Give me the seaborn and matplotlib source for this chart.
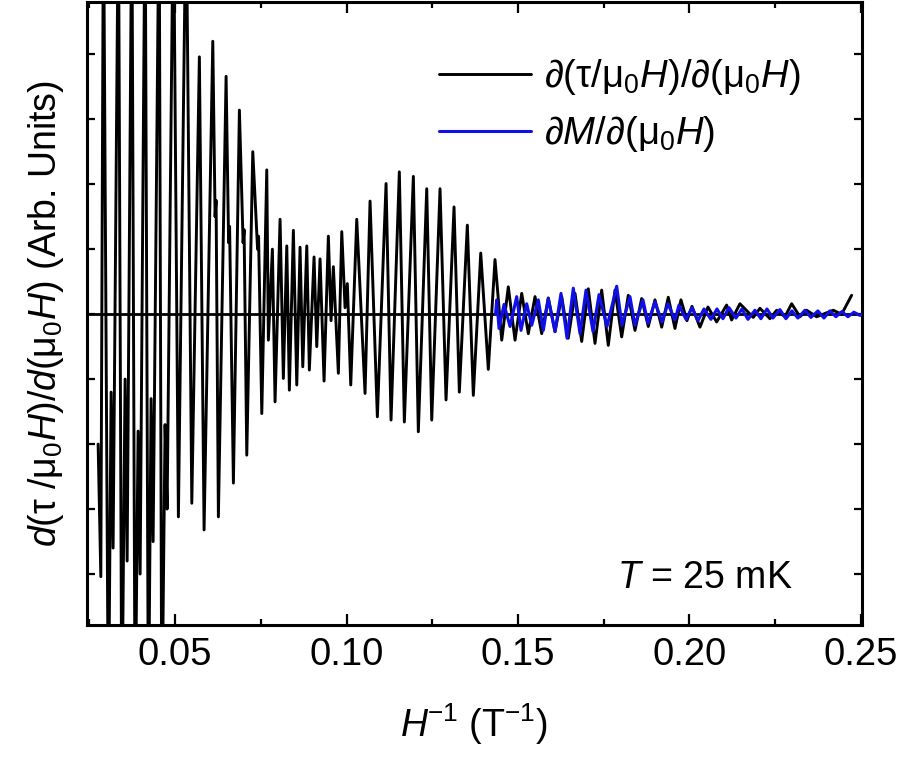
import matplotlib
matplotlib.use("Agg")
import matplotlib.pyplot as plt
import seaborn as sns
import pandas as pd
from matplotlib.ticker import MultipleLocator, NullFormatter

# Torque derivative d(tau/mu0H)/d(mu0H) versus inverse field (extrema of the trace)
black_x = [
    0.02755, 0.02834, 0.02910, 0.03055, 0.03134, 0.03192, 0.03347, 0.03446,
    0.03542, 0.03601, 0.03738, 0.03834, 0.03921, 0.03980, 0.04125, 0.04222,
    0.04300, 0.04359, 0.04534, 0.04612, 0.04708, 0.04767, 0.04950, 0.05096,
    0.05321, 0.05487, 0.05708, 0.05845, 0.06099, 0.06166, 0.06195, 0.06262,
    0.06487, 0.06560, 0.06589, 0.06700, 0.06875, 0.06983, 0.07012, 0.07090,
    0.07265, 0.07405, 0.07434, 0.07528, 0.07673, 0.07720, 0.07837, 0.07915,
    0.08061, 0.08157, 0.08257, 0.08332, 0.08449, 0.08548, 0.08644, 0.08723,
    0.08840, 0.08915, 0.09052, 0.09131, 0.09227, 0.09344, 0.09469, 0.09548,
    0.09615, 0.09761, 0.09860, 0.09956, 0.10023, 0.10122, 0.10297, 0.10539,
    0.10685, 0.10898, 0.11152, 0.11297, 0.11539, 0.11685, 0.11948, 0.12093,
    0.12338, 0.12484, 0.12726, 0.12901, 0.13134, 0.13289, 0.13522, 0.13697,
    0.13913, 0.14134, 0.14329, 0.14525, 0.14717, 0.14913, 0.15108, 0.15300,
    0.15496, 0.15691, 0.15883, 0.16079, 0.16274, 0.16466, 0.16662, 0.16857,
    0.17050, 0.17245, 0.17440, 0.17633, 0.17828, 0.18023, 0.18216, 0.18411,
    0.18606, 0.18799, 0.18994, 0.19190, 0.19382, 0.19577, 0.19752, 0.19927,
    0.20073, 0.20306, 0.20539, 0.20793, 0.21084, 0.21230, 0.21472, 0.21860,
    0.22055, 0.22347, 0.22542, 0.22784, 0.22980, 0.23222, 0.23417, 0.23708,
    0.24192, 0.24437, 0.24729,
]
black_y = [
    -2.00, -4.04, 6.50, -6.50, -1.20, -3.60, 6.50, -6.50,
    -1.00, -3.80, 6.50, -6.50, -1.80, -4.00, 6.50, -6.50,
    -1.30, -3.50, 6.50, -6.50, -1.70, -3.00, 6.50, -3.12,
    6.50, -2.91, 3.96, -3.32, 4.20, 1.50, 1.75, -3.12,
    3.66, 1.10, 1.35, -2.60, 3.14, 1.10, 1.30, -2.17,
    2.50, 1.00, 1.20, -1.53, 2.22, -0.40, 1.00, -1.35,
    1.46, -0.99, 1.05, -1.17, 1.29, -1.09, 1.03, -0.81,
    1.05, -0.86, 0.88, -0.50, 0.85, -1.03, 1.20, -0.10,
    0.73, -0.91, 1.27, 0.10, 0.47, -1.09, 1.46, -1.22,
    1.74, -1.58, 2.01, -1.63, 2.19, -1.66, 2.12, -1.81,
    1.93, -1.63, 1.93, -1.32, 1.65, -1.20, 1.37, -1.25,
    0.94, -0.85, 0.84, -0.40, 0.42, -0.40, 0.32, -0.30,
    0.27, -0.30, 0.25, -0.27, 0.27, -0.37, 0.32, -0.42,
    0.39, -0.45, 0.37, -0.48, 0.37, -0.35, 0.29, -0.25,
    0.24, -0.19, 0.22, -0.20, 0.26, -0.22, 0.22, -0.10,
    0.12, -0.20, 0.11, -0.12, 0.14, -0.09, 0.16, -0.05,
    0.09, -0.07, 0.06, -0.04, 0.16, -0.04, 0.06, -0.04,
    0.06, 0.00, 0.29,
]

# Magnetization derivative dM/d(mu0H)
blue_x = [
    0.14344, 0.14379, 0.14446, 0.14592, 0.14767, 0.14962, 0.15087, 0.15254,
    0.15400, 0.15592, 0.15738, 0.15883, 0.16079, 0.16254, 0.16429, 0.16612,
    0.16808, 0.16983, 0.17187, 0.17362, 0.17595, 0.17878, 0.18032, 0.18265,
    0.18411, 0.18644, 0.18790, 0.18994, 0.19198, 0.19373, 0.19577, 0.19694,
    0.19898, 0.20073, 0.20248, 0.20423, 0.20627, 0.20802, 0.20977, 0.21152,
    0.21356, 0.21530, 0.21706, 0.21910, 0.22085, 0.22260, 0.22434, 0.22638,
    0.22813, 0.22988, 0.23163, 0.23367, 0.23542, 0.23746, 0.23921, 0.24096,
    0.24271, 0.24446, 0.24621, 0.24796, 0.24971, 0.25030,
]
blue_y = [
    0.00, 0.22, -0.22, 0.15, -0.19, 0.27, -0.25, 0.16,
    -0.17, 0.22, -0.25, 0.24, -0.27, 0.32, -0.37, 0.40,
    -0.30, 0.37, -0.27, 0.30, -0.19, 0.43, -0.17, 0.27,
    -0.17, 0.22, -0.14, 0.19, -0.12, 0.16, -0.09, 0.14,
    -0.08, 0.10, -0.10, 0.08, -0.08, 0.08, -0.07, 0.10,
    -0.06, 0.08, -0.08, 0.06, -0.07, 0.08, -0.06, 0.07,
    -0.07, 0.05, -0.06, 0.06, -0.05, 0.05, -0.06, 0.05,
    -0.04, 0.04, -0.04, 0.03, -0.02, 0.00,
]

x_major = [0.05, 0.10, 0.15, 0.20, 0.25]
x_labels = ["0.05", "0.10", "0.15", "0.20", "0.25"]
label_black = "∂(τ/μ$_\\mathit{0}$$H$)/∂(μ$_\\mathit{0}$$H$)"
label_blue = "∂$M$/∂(μ$_\\mathit{0}$$H$)"

sns.set_style("ticks")
plt.rcParams["font.family"] = ["Liberation Sans", "DejaVu Sans"]
plt.rcParams["mathtext.fontset"] = "custom"
plt.rcParams["mathtext.rm"] = "Liberation Sans"
plt.rcParams["mathtext.it"] = "Liberation Sans:italic"
plt.rcParams["mathtext.bf"] = "Liberation Sans:bold"
plt.rcParams["text.color"] = "black"
plt.rcParams["axes.labelcolor"] = "black"
plt.rcParams["xtick.color"] = "black"
plt.rcParams["ytick.color"] = "black"

torque = pd.DataFrame({"inv_field": black_x, "signal": black_y})
magnet = pd.DataFrame({"inv_field": blue_x, "signal": blue_y})

fig = plt.figure(figsize=(9.06, 7.6), dpi=100)
ax = fig.add_axes([0.096, 0.178, 0.855, 0.819])

ax.axhline(0, color="black", lw=2.0, zorder=1)
sns.lineplot(data=torque, x="inv_field", y="signal", sort=False, estimator=None,
             color="black", lw=2.1, label=label_black, ax=ax, zorder=2,
             solid_joinstyle="round")
sns.lineplot(data=magnet, x="inv_field", y="signal", sort=False, estimator=None,
             color="#1010e6", lw=2.2, label=label_blue, ax=ax, zorder=3,
             solid_joinstyle="round")

ax.set_xlim(0.0243, 0.2502)
ax.set_ylim(-4.78, 4.8)
ax.set_xticks(x_major)
ax.set_xticklabels(x_labels)
ax.xaxis.set_minor_locator(MultipleLocator(0.025))
ax.yaxis.set_major_locator(MultipleLocator(1))
ax.yaxis.set_major_formatter(NullFormatter())

for side in ax.spines.values():
    side.set_linewidth(2.2)
    side.set_color("black")
ax.tick_params(axis="both", which="major", direction="in", length=8, width=1.6,
               top=True, right=True, labelsize=27.5, pad=9)
ax.tick_params(axis="both", which="minor", direction="in", length=4.5, width=1.6,
               top=True, right=True)
ax.tick_params(axis="y", which="major", length=6)

ax.set_xlabel("$H$$^{-1}$ (T$^{-1}$)", fontsize=27, labelpad=20)
ax.set_ylabel("$d$(τ /μ$_0$$H$)/$d$(μ$_0$$H$) (Arb. Units)", fontsize=27, labelpad=6)

ax.text(0.797, 0.075, "$T$ = 25 mK", transform=ax.transAxes, fontsize=27,
        ha="center", va="center")

ax.legend(loc="upper left", bbox_to_anchor=(0.455, 0.912), frameon=False,
          fontsize=27.5, handlelength=2.4, handletextpad=0.35, labelspacing=0.45,
          borderaxespad=0, borderpad=0)

fig.savefig("out.png", dpi=100)
